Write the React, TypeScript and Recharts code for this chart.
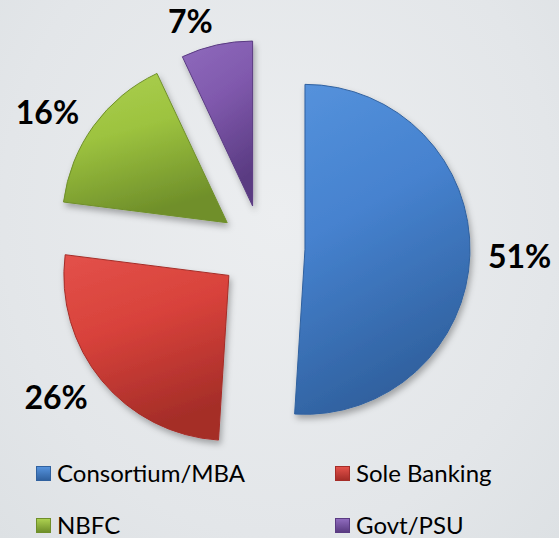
import React from 'react';
import { PieChart, Pie, Cell, Sector, Legend } from 'recharts';

const categories = ['Consortium/MBA', 'Sole Banking', 'NBFC', 'Govt/PSU'];
const shares = [51, 26, 16, 7];
const colors = ['#4682cf', '#d8423b', '#9dc33f', '#8059ad'];
const darkColors = ['#30619f', '#a52d28', '#6f8f2a', '#5a3b82'];
const lightColors = ['#5592dc', '#e3514a', '#acd050', '#8f6bbd'];

const data = categories.map((name, i) => ({ name, value: shares[i] }));

const RAD = Math.PI / 180;
const EXPLODE = 43;

// push each slice outward along its mid angle
const renderSlice = (props: any) => {
    const { cx, cy, midAngle } = props;
    const dx = EXPLODE * Math.cos(-midAngle * RAD);
    const dy = EXPLODE * Math.sin(-midAngle * RAD);
    return <Sector {...props} cx={cx + dx} cy={cy + dy} filter="url(#sliceShadow)" />;
};

const renderLabel = (props: any) => {
    const { cx, cy, midAngle, index } = props;
    const cos = Math.cos(-midAngle * RAD);
    const x = cx + 226 * cos;
    const y = cy + 233 * Math.sin(-midAngle * RAD);
    return (
        <text
            x={x}
            y={y}
            textAnchor={cos >= 0 ? 'start' : 'end'}
            dominantBaseline="central"
            fill="#000"
            fontFamily="Lato, sans-serif"
            fontWeight="bold"
            fontSize={32}
        >
            {`${shares[index]}%`}
        </text>
    );
};

const renderLegend = () => (
    <div style={{ position: 'relative', width: 559, height: 80, fontFamily: 'Lato, sans-serif', fontSize: 24, color: '#000' }}>
        {categories.map((name, i) => (
            <div
                key={name}
                style={{
                    position: 'absolute',
                    left: i % 2 === 0 ? 36 : 335,
                    top: i < 2 ? 0 : 52,
                    display: 'flex',
                    alignItems: 'center',
                    height: 30,
                    lineHeight: '30px',
                    whiteSpace: 'nowrap',
                }}
            >
                <span
                    style={{
                        display: 'inline-block',
                        width: 15,
                        height: 15,
                        marginRight: 6,
                        background: `linear-gradient(${lightColors[i]}, ${darkColors[i]})`,
                        boxSizing: 'border-box',
                        border: `1px solid ${darkColors[i]}`,
                    }}
                />
                {name}
            </div>
        ))}
    </div>
);

export default function App() {
    return (
        <div
            style={{
                position: 'absolute',
                left: 0,
                top: 0,
                width: 559,
                height: 538,
                background: 'radial-gradient(ellipse at 50% 40%, #eceef0 0%, #e3e6e9 70%, #dde1e4 100%)',
            }}
        >
            <PieChart width={559} height={538} margin={{ top: 0, right: 0, bottom: 0, left: 0 }}>
                <defs>
                    {colors.map((c, i) => (
                        <linearGradient key={c} id={`grad${i}`} x1="0" y1="0" x2="0.3" y2="1">
                            <stop offset="0%" stopColor={lightColors[i]} />
                            <stop offset="45%" stopColor={c} />
                            <stop offset="100%" stopColor={darkColors[i]} />
                        </linearGradient>
                    ))}
                    <filter id="sliceShadow" x="-20%" y="-20%" width="140%" height="140%">
                        <feDropShadow dx="2" dy="4" stdDeviation="3" floodColor="#000" floodOpacity="0.3" />
                    </filter>
                </defs>
                <Pie
                    data={data}
                    dataKey="value"
                    nameKey="name"
                    cx={262}
                    cy={248}
                    outerRadius={165}
                    startAngle={90}
                    endAngle={-270}
                    stroke="none"
                    labelLine={false}
                    label={renderLabel}
                    shape={renderSlice}
                    activeShape={renderSlice}
                    inactiveShape={renderSlice}
                    isAnimationActive={false}
                >
                    {data.map((d, i) => (
                        <Cell key={d.name} fill={`url(#grad${i})`} stroke={darkColors[i]} strokeWidth={1} />
                    ))}
                </Pie>
                <Legend content={renderLegend} wrapperStyle={{ position: 'absolute', left: 0, top: 458, width: 559 }} />
            </PieChart>
        </div>
    );
}
